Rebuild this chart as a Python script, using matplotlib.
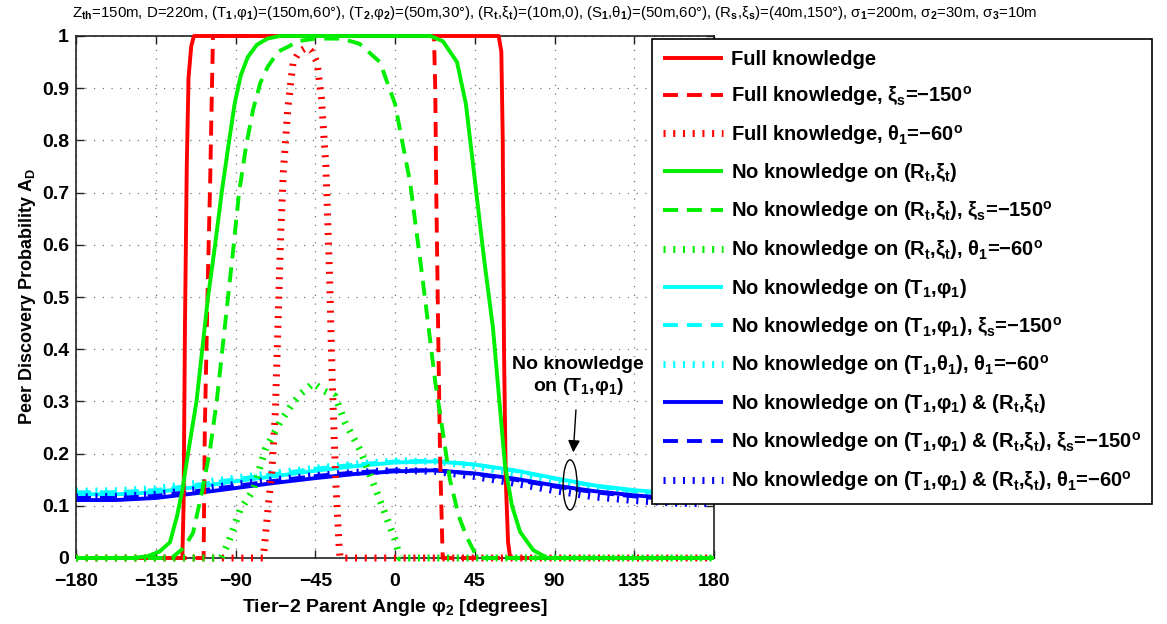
import numpy as np
import matplotlib
matplotlib.use('Agg')
import matplotlib.pyplot as plt
from matplotlib.patches import Ellipse

plt.rcParams['font.family'] = ['Liberation Sans', 'DejaVu Sans']
plt.rcParams['font.weight'] = 'bold'
plt.rcParams['mathtext.fontset'] = 'custom'
plt.rcParams['mathtext.rm'] = 'Liberation Sans'
plt.rcParams['mathtext.bf'] = 'Liberation Sans:bold'
plt.rcParams['mathtext.default'] = 'rm'

# ---------------------------------------------------------------
#  Data (phi_2 in degrees, A_D)
# ---------------------------------------------------------------
fk_x = [-180, -120, -119.3, -118.5, -117.5, -116.5, -115, -113.5,
        58.5, 60, 60.8, 61.5, 62.5, 63.8, 65, 180]
fk_y = [0, 0, 0.1, 0.45, 0.75, 0.92, 0.98, 1,
        1, 0.97, 0.8, 0.4, 0.15, 0.03, 0, 0]

fk_xi_x = [-180, -108, -107.3, -105.5, -104.3, -103.3, -102.7,
           22, 22.7, 23.3, 24.3, 25.4, 26.9, 180]
fk_xi_y = [0, 0, 0.25, 0.55, 0.72, 0.9, 1,
           1, 0.9, 0.7, 0.45, 0.2, 0, 0]

fk_th_x = [-180, -74.3, -71.5, -69.6, -67.5, -66, -64.5, -63, -60.5, -57.5,
           -54, -50, -47, -44, -41.5, -39, -37, -35.5, -33.5, -31.5, -31, 180]
fk_th_y = [0, 0, 0.1, 0.16, 0.28, 0.45, 0.62, 0.74, 0.86, 0.95,
           0.97, 0.978, 0.97, 0.95, 0.88, 0.75, 0.55, 0.35, 0.15, 0.02, 0, 0]

nr_x = [-180, -148, -140, -133, -127, -123, -120, -116.8, -112, -105.5,
        -101.5, -97.8, -94, -90.5, -87, -83, -78, -72, -65, 20, 27, 35,
        40, 45.2, 50, 55.3, 62, 66, 70.6, 78, 86, 180]
nr_y = [0, 0, 0.003, 0.012, 0.03, 0.08, 0.13, 0.2, 0.3, 0.5,
        0.6, 0.7, 0.79, 0.87, 0.925, 0.96, 0.983, 0.995, 1, 1, 0.99, 0.95,
        0.87, 0.72, 0.58, 0.44, 0.18, 0.1, 0.05, 0.015, 0, 0]

nr_xi_x = [-180, -126, -119, -114, -109, -104.4, -100.6, -94.2, -91, -88,
           -84, -80, -76, -72, -66, -60, -55, -45, -30, -20, -8.5, 0, 8.5,
           15, 19, 22.6, 31, 36, 40.5, 45, 48, 180]
nr_xi_y = [0, 0, 0.02, 0.048, 0.125, 0.207, 0.3, 0.5, 0.6, 0.7,
           0.79, 0.86, 0.91, 0.94, 0.97, 0.98, 0.99, 0.995, 0.995, 0.985, 0.95, 0.87, 0.72,
           0.55, 0.44, 0.34, 0.15, 0.08, 0.04, 0.01, 0, 0]

nr_th_x = [-180, -98, -94, -87.4, -80, -73.3, -64.9, -58, -53, -46,
           -40, -33.8, -28.2, -19.7, -8.4, 0, 2.8, 180]
nr_th_y = [0, 0, 0.03, 0.092, 0.13, 0.207, 0.26, 0.295, 0.315, 0.335,
           0.32, 0.31, 0.26, 0.207, 0.11, 0.035, 0, 0]

phi_x = [-180, -157.5, -135, -112.5, -90, -67.5, -45, -22.5, 0,
         22.5, 45, 67.5, 90, 112.5, 135, 157.5, 180]
nt_y    = [0.122, 0.122, 0.126, 0.136, 0.147, 0.157, 0.167, 0.176, 0.183,
           0.185, 0.179, 0.168, 0.153, 0.139, 0.130, 0.124, 0.121]
nt_xi_y = [0.126, 0.126, 0.130, 0.140, 0.151, 0.161, 0.171, 0.179, 0.185,
           0.186, 0.179, 0.167, 0.152, 0.138, 0.128, 0.122, 0.119]
nt_th_y = [0.128, 0.129, 0.133, 0.143, 0.153, 0.163, 0.172, 0.180, 0.186,
           0.185, 0.176, 0.162, 0.147, 0.133, 0.124, 0.118, 0.116]
nb_y    = [0.111, 0.111, 0.115, 0.124, 0.134, 0.144, 0.153, 0.161, 0.166,
           0.168, 0.162, 0.152, 0.139, 0.128, 0.120, 0.114, 0.111]
nb_xi_y = [0.115, 0.115, 0.119, 0.128, 0.138, 0.148, 0.157, 0.164, 0.168,
           0.168, 0.161, 0.150, 0.137, 0.126, 0.118, 0.112, 0.109]
nb_th_y = [0.117, 0.118, 0.122, 0.131, 0.141, 0.150, 0.158, 0.164, 0.168,
           0.166, 0.156, 0.143, 0.129, 0.117, 0.110, 0.105, 0.104]

x_ticks = [-180, -135, -90, -45, 0, 45, 90, 135, 180]
y_ticks = [0, 0.1, 0.2, 0.3, 0.4, 0.5, 0.6, 0.7, 0.8, 0.9, 1]
y_ticklabels = ['0', '0.1', '0.2', '0.3', '0.4', '0.5', '0.6', '0.7', '0.8', '0.9', '1']


def b(s):
    return r'$_\mathbf{%s}$' % s


DEG = r'$^\mathbf{o}$'
RT = '(R' + b('t') + ',ξ' + b('t') + ')'
T1 = '(T' + b('1') + ',φ' + b('1') + ')'
XIS = 'ξ' + b('s') + '=−150' + DEG
TH1 = 'θ' + b('1') + '=−60' + DEG

labels = [
    'Full knowledge',
    'Full knowledge, ' + XIS,
    'Full knowledge, ' + TH1,
    'No knowledge on ' + RT,
    'No knowledge on ' + RT + ', ' + XIS,
    'No knowledge on ' + RT + ', ' + TH1,
    'No knowledge on ' + T1,
    'No knowledge on ' + T1 + ', ' + XIS,
    'No knowledge on (T' + b('1') + ',θ' + b('1') + '), ' + TH1,
    'No knowledge on ' + T1 + ' & ' + RT,
    'No knowledge on ' + T1 + ' & ' + RT + ', ' + XIS,
    'No knowledge on ' + T1 + ' & ' + RT + ', ' + TH1,
]

RED, GREEN, CYAN, BLUE = '#ff0000', '#00ee00', '#00ffff', '#0000ff'
SOLID = dict(lw=2.8, ls='-')
DASHED = dict(lw=2.8, ls=(0, (3.85, 2.3)))
DOTTED = dict(lw=5, ls=(0, (0.3, 1.1)))

series = [
    (fk_x, fk_y, RED, SOLID, 3),
    (fk_xi_x, fk_xi_y, RED, DASHED, 3),
    (fk_th_x, fk_th_y, RED, DOTTED, 3),
    (nr_x, nr_y, GREEN, SOLID, 3),
    (nr_xi_x, nr_xi_y, GREEN, DASHED, 3),
    (nr_th_x, nr_th_y, GREEN, DOTTED, 3),
    (phi_x, nt_y, CYAN, SOLID, 2),
    (phi_x, nt_xi_y, CYAN, DASHED, 2),
    (phi_x, nt_th_y, CYAN, DOTTED, 2),
    (phi_x, nb_y, BLUE, SOLID, 2),
    (phi_x, nb_xi_y, BLUE, DASHED, 2),
    (phi_x, nb_th_y, BLUE, DOTTED, 2),
]

fig = plt.figure(figsize=(11.67, 6.24), dpi=100, facecolor='white')
ax = fig.add_axes([76 / 1167, 1 - 558 / 624, 638 / 1167, 522 / 624])

handles = []
for xs, ys, col, sty, z in series:
    h, = ax.plot(xs, ys, color=col, dash_capstyle='butt', solid_capstyle='butt',
                 clip_on=False, zorder=z, **sty)
    handles.append(h)

ax.set_xlim(-180, 180)
ax.set_ylim(0, 1)
ax.set_xticks(x_ticks)
ax.set_yticks(y_ticks)
ax.set_yticklabels(y_ticklabels)
ax.tick_params(direction='in', top=True, right=True, length=6, width=1,
               labelsize=14, color='#222', pad=5)
ax.tick_params(axis='x', pad=11)
for lab in ax.get_xticklabels() + ax.get_yticklabels():
    lab.set_fontweight('bold')
ax.grid(True, color='#777', lw=0.9, ls=(0, (1, 6)))
for sp in ax.spines.values():
    sp.set_color('#222')
    sp.set_linewidth(1.2)

ax.set_xlabel('Tier−2 Parent Angle φ' + b('2') + ' [degrees]', fontsize=14,
              fontweight='bold', labelpad=5)
ax.set_ylabel('Peer Discovery Probability A' + b('D'), fontsize=13,
              fontweight='bold', labelpad=3)

# annotation for the (T1, phi1) curves
ax.text(103.3, 0.348, 'No knowledge\non ' + T1, ha='center', va='center',
        fontsize=14, fontweight='bold', multialignment='center')
ax.annotate('', xy=(100.5, 0.197), xytext=(102.2, 0.289),
            arrowprops=dict(arrowstyle='-|>', color='black', lw=1,
                            mutation_scale=18))
ax.add_patch(Ellipse((98.8, 0.14), width=7.9, height=0.096, fill=False,
                     ec='black', lw=1, zorder=5))

title = ('Z' + r'$_{th}$' + '=150m, D=220m, (T' + r'$_1$' + ',φ' + r'$_1$' + ')=(150m,60°), '
         '(T' + r'$_2$' + ',φ' + r'$_2$' + ')=(50m,30°), (R' + r'$_t$' + ',ξ' + r'$_t$' + ')=(10m,0), '
         '(S' + r'$_1$' + ',θ' + r'$_1$' + ')=(50m,60°), (R' + r'$_s$' + ',ξ' + r'$_s$' + ')=(40m,150°), '
         'σ' + r'$_1$' + '=200m, σ' + r'$_2$' + '=30m, σ' + r'$_3$' + '=10m')
fig.text(555 / 1167, 1 - 13 / 624, title, ha='center', va='center',
         fontsize=10.8, fontweight='normal')

leg = fig.legend(handles, labels, loc='upper left',
                 bbox_to_anchor=(652 / 1167, 1 - 39 / 624), borderaxespad=0,
                 frameon=True, fancybox=False, framealpha=1, edgecolor='black',
                 prop=dict(size=14.5, weight='bold'), handlelength=3.0,
                 handletextpad=0.35, labelspacing=0.735, borderpad=0.55)
leg.get_frame().set_linewidth(1.2)

fig.savefig('out.png', dpi=100, facecolor='white')
